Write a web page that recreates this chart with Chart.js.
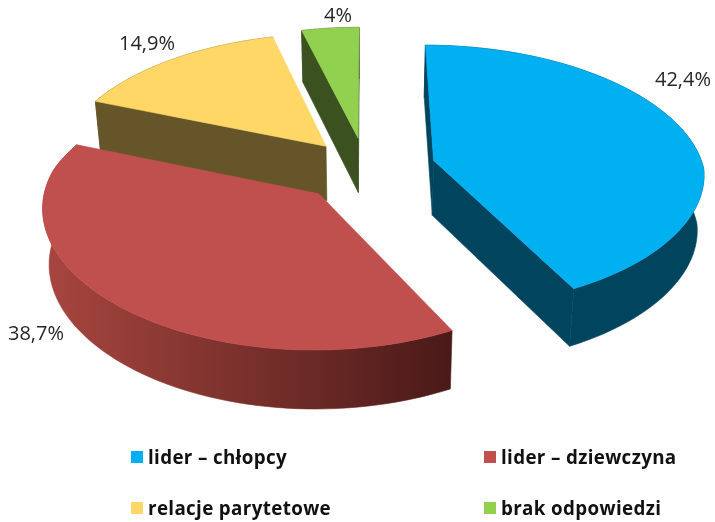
<!DOCTYPE html>
<html>
<head>
<meta charset="utf-8">
<title>lider</title>
<script src="https://cdn.jsdelivr.net/npm/chart.js@4"></script>
<style>
  html, body { margin: 0; padding: 0; background: #fff; }
  #wrap { position: relative; width: 715px; height: 522px; overflow: hidden; }
  #legend .item { position: absolute; font: 700 18.8px "Open Sans", sans-serif; letter-spacing: 0.35px; color: #111; line-height: 20px; white-space: nowrap; }
  #legend .box { position: absolute; width: 12px; height: 12px; }
</style>
</head>
<body>
<div id="wrap">
  <canvas id="pieChart" width="715" height="522"></canvas>
  <div id="legend"></div>
</div>
<script>
const categories = ["lider \u2013 chłopcy", "lider \u2013 dziewczyna", "relacje parytetowe", "brak odpowiedzi"];
const shares = [42.4, 38.7, 14.9, 4];
const shareLabels = ["42,4%", "38,7%", "14,9%", "4%"];

// styles
const topColors = ["#00B0F0", "#C0504D", "#FFD766", "#92D050"];
const wallColors = ["#00445E", "#4E1B1A", "#665528", "#3B5220"];
const rimLeft = ["#00445E", "#A8463F", "#665528", "#3B5220"];
const rimRight = ["#00445E", "#4A1A18", "#665528", "#3B5220"];
const explode = [26, 25.5, 23, 24]; // percent of radius
const labelSpots = [[683, 80], [36, 334], [147, 44], [338, 16]];
const legendSpots = [[131, 457], [484, 457], [131, 508], [484, 508]];

// projection of the flat pie to the tilted view
const view = { cx: 366, cy: 168.5, radius: 270, squash: 0.485, perspY: 0.12, perspBack: 0.14, perspFront: 0.09, depth: 55 };

function project(X, Y, drop) {
    // X, Y in units of pie radius
    const sy = 1 / (1 - view.perspY * Y);
    const sx = 1 / (1 - (Y < 0 ? view.perspBack : view.perspFront) * Y);
    const shrink = drop ? 0.98 : 1; // the underside is further away
    return [view.cx + view.radius * X * sx * shrink,
            view.cy + view.radius * view.squash * Y * sy + (drop || 0) * Math.pow(sy, 0.45)];
}

function slicePoints(el) {
    const mid = (el.startAngle + el.endAngle) / 2;
    const e = el.options.offset / 100;
    const ox = Math.cos(mid) * e, oy = Math.sin(mid) * e;
    const rim = [];
    const steps = 72;
    for (let i = 0; i <= steps; i++) {
        const a = el.startAngle + (el.endAngle - el.startAngle) * i / steps;
        rim.push([ox + Math.cos(a), oy + Math.sin(a)]);
    }
    return { apex: [ox, oy], rim: rim };
}

function signedArea(pts) {
    let sum = 0;
    pts.forEach((p, i) => {
        const q = pts[(i + 1) % pts.length];
        sum += p[0] * q[1] - q[0] * p[1];
    });
    return sum;
}

function fillPoly(ctx, pts, fill) {
    ctx.beginPath();
    pts.forEach((p, i) => { if (i) ctx.lineTo(p[0], p[1]); else ctx.moveTo(p[0], p[1]); });
    ctx.closePath();
    ctx.fillStyle = fill;
    ctx.strokeStyle = fill; // hides the seams between faces
    ctx.lineWidth = 0.6;
    ctx.fill();
    ctx.stroke();
}

const pie3d = {
    id: "pie3d",
    beforeDatasetsDraw(chart) {
        const ctx = chart.ctx;
        const arcs = chart.getDatasetMeta(0).data;
        // back slices first
        [3, 2, 1, 0].forEach(i => {
            const el = arcs[i];
            const sl = slicePoints(el);
            const upRim = sl.rim.map(p => project(p[0], p[1], 0));
            const lowRim = sl.rim.map(p => project(p[0], p[1], view.depth));
            const upApex = project(sl.apex[0], sl.apex[1], 0);
            const lowApex = project(sl.apex[0], sl.apex[1], view.depth);

            // cut faces, only the ones turned to the viewer
            const n = upRim.length - 1;
            const startFace = [upApex, upRim[0], lowRim[0], lowApex];
            const endFace = [upApex, upRim[n], lowRim[n], lowApex];
            if (signedArea(startFace) < 0) fillPoly(ctx, startFace, wallColors[i]);
            if (signedArea(endFace) > 0) fillPoly(ctx, endFace, wallColors[i]);

            // outer rim
            const xs = upRim.map(p => p[0]);
            const grad = ctx.createLinearGradient(Math.min(...xs), 0, Math.max(...xs), 0);
            grad.addColorStop(0, rimLeft[i]);
            grad.addColorStop(1, rimRight[i]);
            fillPoly(ctx, upRim.concat(lowRim.slice().reverse()), grad);

            // top
            fillPoly(ctx, [upApex].concat(upRim), el.options.backgroundColor);
        });

        ctx.fillStyle = "#262626";
        ctx.font = '20px "Open Sans", sans-serif';
        ctx.textAlign = "center";
        ctx.textBaseline = "middle";
        shareLabels.forEach((t, i) => ctx.fillText(t, labelSpots[i][0], labelSpots[i][1]));
        return false; // default flat arcs are replaced by the drawing above
    }
};

const chart = new Chart(document.getElementById("pieChart"), {
    type: "pie",
    data: {
        labels: categories,
        datasets: [{
            data: shares,
            backgroundColor: topColors,
            borderWidth: 0,
            offset: explode
        }]
    },
    options: {
        responsive: false,
        animation: false,
        plugins: { legend: { display: false }, tooltip: { enabled: false } }
    },
    plugins: [pie3d]
});

const legendEl = document.getElementById("legend");
categories.forEach((name, i) => {
    const box = document.createElement("div");
    box.className = "box";
    box.style.left = legendSpots[i][0] + "px";
    box.style.top = (legendSpots[i][1] - 6) + "px";
    box.style.background = topColors[i];
    legendEl.appendChild(box);
    const item = document.createElement("div");
    item.className = "item";
    item.style.left = (legendSpots[i][0] + 17) + "px";
    item.style.top = (legendSpots[i][1] - 10) + "px";
    item.textContent = name;
    legendEl.appendChild(item);
});
</script>
</body>
</html>
